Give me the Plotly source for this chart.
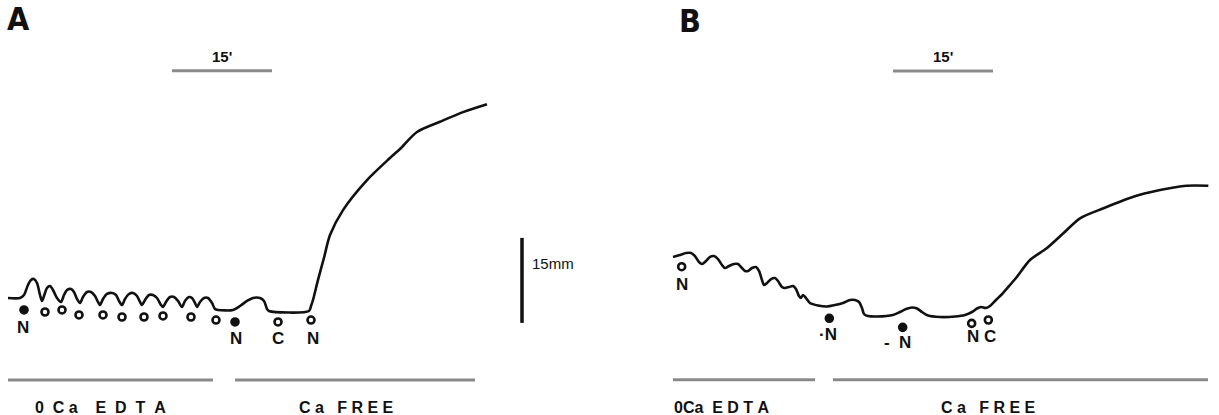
import plotly.graph_objects as go

# ---------------- data (time in minutes, tension in mm above baseline) -------------
a_t = [0, 1.8, 2.4, 3.0, 3.45, 3.9, 4.35, 4.8, 5.1, 5.4, 5.85, 6.3, 6.75, 7.35, 7.95,
       8.4, 8.85, 9.45, 9.9, 10.35, 10.8, 11.25, 11.85, 12.45, 13.05, 13.5, 13.8, 14.25,
       14.85, 15.6, 16.2, 16.65, 17.1, 17.55, 18.15, 18.75, 19.35, 19.8, 20.1, 20.55,
       21.15, 21.75, 22.35, 22.95, 23.25, 23.7, 24.3, 24.9, 25.5, 26.1, 26.55, 27.15,
       27.6, 28.05, 28.35, 28.8, 29.4, 30.0, 30.6, 31.05, 31.5, 33.75, 34.8, 35.85, 36.75,
       37.8, 38.4, 38.85, 39.15, 45.15, 45.45, 45.75, 46.5, 47.4, 48.3, 50.25, 53.85,
       57.3, 58.8, 61.35, 64.8, 68.25, 71.85]
a_h = [2.29, 2.29, 2.82, 4.59, 5.47, 5.65, 4.94, 2.82, 1.77, 2.65, 4.06, 4.41, 3.71, 2.29, 1.59,
       2.82, 3.71, 3.88, 3.35, 2.12, 1.41, 2.47, 3.35, 3.35, 2.65, 1.59, 1.06, 2.12,
       3.0, 3.18, 2.82, 1.77, 1.06, 2.12, 3.0, 3.18, 2.65, 1.59, 1.06, 1.94,
       2.82, 2.82, 2.29, 1.06, 0.71, 1.59, 2.47, 2.47, 1.77, 0.71, 1.77, 2.47,
       2.29, 1.41, 0.71, 1.59, 2.29, 2.29, 1.41, 0.35, 0.18, 0.18, 0.88, 1.77, 2.29,
       2.29, 1.77, 0.35, 0.0, 0.0, 0.88, 1.94, 5.5, 9.4, 13.4, 17.8, 23.1,
       27.0, 28.6, 31.6, 33.4, 35.1, 36.5]

a_mark_t = [2.4, 5.55, 8.1, 10.65, 14.25, 17.1, 20.4, 23.25, 27.45, 31.2, 34.05, 40.5, 45.45]
a_mark_h = [0.18, -0.18, 0.18, -0.7, -0.7, -1.06, -1.06, -0.88, -1.06, -1.6, -1.94, -1.94, -1.6]
a_mark_filled = [True, False, False, False, False, False, False, False, False, False, True, False, False]
a_lab_text = ["N", "N", "C", "N"]
a_lab_t = [2.25, 34.2, 40.5, 45.75]
a_lab_h = [-3.0, -4.9, -4.9, -4.8]

b_t = [0, 1.05, 1.95, 2.7, 3.3, 3.9, 4.35, 4.95, 5.55, 6.15, 6.75, 7.35, 7.8, 8.4, 9.15,
       9.75, 10.2, 10.8, 11.25, 11.85, 12.45, 12.9, 13.35, 13.65, 14.1, 14.7, 15.3, 15.75,
       16.35, 16.8, 17.4, 18.0, 18.45, 18.9, 19.2, 19.5, 19.95, 20.55, 21.75, 23.1, 24.3,
       25.5, 26.55, 27.3, 27.9, 28.35, 28.65, 29.25, 30.6, 33.0, 34.05, 34.95, 35.85, 36.6,
       37.35, 38.25, 40.05, 42.3, 43.8, 44.85, 45.6, 46.2, 46.95, 47.55, 48.45, 49.5, 50.55,
       51.6, 53.55, 56.05, 58.55, 61.05, 64.55, 69.05, 73.05, 77.05, 80.3]
b_h = [10.77, 11.12, 11.47, 11.47, 10.94, 9.88, 9.53, 10.06, 10.77, 10.94, 10.41, 9.35, 8.83, 9.18, 9.53,
       9.53, 9.0, 8.3, 8.3, 8.83, 9.0, 8.3, 6.71, 5.83, 6.18, 6.88, 7.06, 6.53,
       5.47, 5.3, 5.47, 5.65, 5.12, 3.88, 3.53, 4.06, 3.53, 2.65, 2.21, 2.03, 2.29,
       2.65, 3.18, 3.18, 2.82, 1.77, 0.71, 0.35, 0.26, 0.53, 1.06, 1.59, 1.85, 1.68,
       1.06, 0.44, 0.18, 0.26, 0.53, 1.06, 1.68, 1.94, 1.77, 2.12, 3.18, 4.41, 5.83,
       7.29, 10.24, 12.3, 14.95, 17.6, 19.36, 21.41, 22.59, 23.35, 23.35]

b_mark_t = [1.3, 23.45, 34.45, 44.8, 47.3]
b_mark_h = [9.05, -0.05, -1.65, -0.95, -0.35]
b_mark_filled = [False, True, True, False, False]
b_lab_text = ["N", "·N", "-\u00a0\u00a0N", "N", "C"]
b_lab_t = [1.3, 23.3, 33.6, 45.0, 47.55]
b_lab_h = [6.0, -2.9, -4.4, -3.3, -3.3]

NB = "\u00a0"
# solution periods (minutes), label centres and labels
a_periods = [(0, 30.75), (34.05, 70.05)]
a_period_lab_t = [13.8, 50.7]
a_period_labels = ["0" + NB * 2 + "C" + NB + "a" + NB * 4 + "E" + NB * 2 + "D" + NB * 2 + "T" + NB * 2 + "A",
                   "C" + NB + "a" + NB * 3 + "F" + NB + "R" + NB + "E" + NB + "E"]
b_periods = [(0, 21.3), (24.0, 80.25)]
b_period_lab_t = [7.35, 47.25]
b_period_labels = ["0Ca" + NB * 2 + "E" + NB + "D" + NB + "T" + NB + "A",
                   "C" + NB + "a" + NB * 3 + "F" + NB + "R" + NB + "E" + NB + "E"]
period_h_a = -12.2
period_h_b = -10.9

# calibration bars
a_time_bar = (24.6, 39.6, 42.4)   # 15 min
b_time_bar = (33.0, 48.0, 43.6)   # 15 min
mm_bar = (77.1, -2.1, 12.9)       # 15 mm, panel A scale

# ---------------- figure ----------------
fig = go.Figure()
INK = "#111111"
BAR = "#8a8a8a"
FONT = "Liberation Sans, Arial, sans-serif"

def add_panel(ts, hs, mt, mh, mf, xa, ya):
    fig.add_trace(go.Scatter(x=ts, y=hs, mode="lines", xaxis=xa, yaxis=ya,
                             line=dict(color=INK, width=2.6, shape="spline", smoothing=0.8),
                             hoverinfo="skip", showlegend=False))
    for filled in (True, False):
        xs = [t for t, f in zip(mt, mf) if f == filled]
        ys = [h for h, f in zip(mh, mf) if f == filled]
        fig.add_trace(go.Scatter(x=xs, y=ys, mode="markers", xaxis=xa, yaxis=ya,
                                 marker=dict(symbol="circle" if filled else "circle-open",
                                             size=7, color=INK,
                                             line=dict(color=INK, width=2.6)),
                                 hoverinfo="skip", showlegend=False))

add_panel(a_t, a_h, a_mark_t, a_mark_h, a_mark_filled, "x", "y")
add_panel(b_t, b_h, b_mark_t, b_mark_h, b_mark_filled, "x2", "y2")

annotations = []
shapes = []

def lab(text, x, y, xref, yref, size=16, bold=True, xanchor="center"):
    annotations.append(dict(text=f"<b>{text}</b>" if bold else text, x=x, y=y, xref=xref,
                            yref=yref, showarrow=False, xanchor=xanchor, yanchor="middle",
                            font=dict(family=FONT, size=size, color=INK)))

for txt, t, h in zip(a_lab_text, a_lab_t, a_lab_h):
    lab(txt, t, h, "x", "y", size=17)
for txt, t, h in zip(b_lab_text, b_lab_t, b_lab_h):
    lab(txt, t, h, "x2", "y2", size=17)

for (t0, t1), lt, txt in zip(a_periods, a_period_lab_t, a_period_labels):
    shapes.append(dict(type="line", x0=t0, x1=t1, y0=period_h_a, y1=period_h_a, xref="x", yref="y",
                       line=dict(color=BAR, width=3)))
    lab(txt, lt, period_h_a - 4.9, "x", "y", size=16)
for (t0, t1), lt, txt in zip(b_periods, b_period_lab_t, b_period_labels):
    shapes.append(dict(type="line", x0=t0, x1=t1, y0=period_h_b, y1=period_h_b, xref="x2", yref="y2",
                       line=dict(color=BAR, width=3)))
    lab(txt, lt, period_h_b - 4.9, "x2", "y2", size=16)

for (t0, t1, h), xr, yr in [(a_time_bar, "x", "y"), (b_time_bar, "x2", "y2")]:
    shapes.append(dict(type="line", x0=t0, x1=t1, y0=h, y1=h, xref=xr, yref=yr,
                       line=dict(color=BAR, width=3)))
    lab("15'", (t0 + t1) / 2, h + 2.5, xr, yr, size=15)

shapes.append(dict(type="line", x0=mm_bar[0], x1=mm_bar[0], y0=mm_bar[1], y1=mm_bar[2],
                   xref="x", yref="y", line=dict(color=INK, width=3.5)))
lab("15mm", mm_bar[0] + 1.2, 8.4, "x", "y", size=15, bold=False, xanchor="left")

for letter, px, py in [("A", 18, 19), ("B", 690, 21)]:
    annotations.append(dict(text=f"<b>{letter}</b>", x=px / 1219, y=1 - py / 415,
                            xref="paper", yref="paper", showarrow=False,
                            xanchor="center", yanchor="middle",
                            font=dict(family="Liberation Sans Narrow, DejaVu Sans Condensed, sans-serif",
                                      size=32, color=INK)))

hidden = dict(visible=False, showgrid=False, zeroline=False, fixedrange=True)
fig.update_layout(
    width=1219, height=415, autosize=False,
    margin=dict(l=0, r=0, t=0, b=0, pad=0),
    paper_bgcolor="white", plot_bgcolor="white",
    xaxis=dict(range=[-1.2, 181.65], domain=[0, 1], **hidden),
    yaxis=dict(range=[-18.36, 54.89], domain=[0, 1], **hidden),
    xaxis2=dict(range=[-100.95, 81.9], domain=[0, 1], overlaying="x", **hidden),
    yaxis2=dict(range=[-17.12, 56.13], domain=[0, 1], overlaying="y", **hidden),
    annotations=annotations, shapes=shapes,
)

fig.write_html("out.html")
